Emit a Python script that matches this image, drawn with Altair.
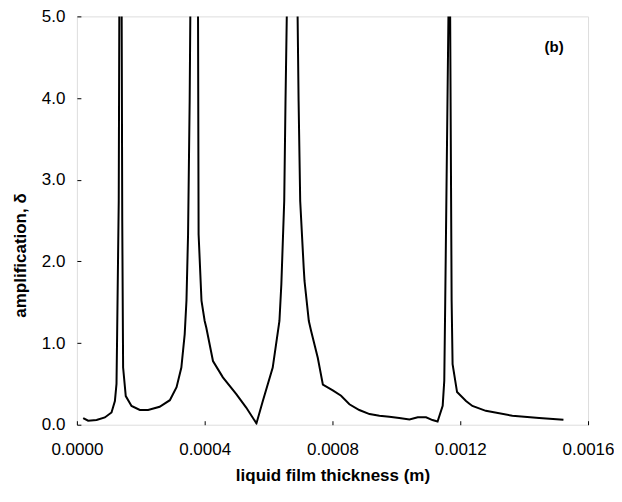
import altair as alt
import pandas as pd

# liquid film thickness (m)
thickness = [
    1.97e-5, 3.53e-5, 6.16e-5, 8.75e-5, 1.084e-4, 1.19e-4, 1.24e-4, 1.26e-4, 1.31e-4, 1.33e-4,
    1.40e-4, 1.42e-4, 1.447e-4, 1.53e-4, 1.71e-4, 1.97e-4, 2.23e-4, 2.59e-4, 2.91e-4, 3.12e-4,
    3.27e-4, 3.375e-4, 3.43e-4, 3.48e-4, 3.53e-4, 3.55e-4, 3.56e-4,
    3.79e-4, 3.81e-4, 3.90e-4, 4.00e-4, 4.05e-4, 4.26e-4, 4.57e-4, 4.99e-4, 5.30e-4, 5.62e-4,
    5.82e-4, 6.13e-4, 6.34e-4, 6.40e-4, 6.49e-4, 6.53e-4, 6.57e-4, 6.58e-4,
    6.90e-4, 6.94e-4, 6.99e-4, 7.10e-4, 7.125e-4, 7.26e-4, 7.33e-4, 7.54e-4, 7.70e-4, 8.01e-4,
    8.27e-4, 8.53e-4, 8.84e-4, 9.16e-4, 9.47e-4, 9.78e-4, 1.009e-3, 1.041e-3, 1.067e-3, 1.093e-3,
    1.113e-3, 1.129e-3, 1.145e-3, 1.150e-3, 1.153e-3, 1.163e-3, 1.164e-3,
    1.168e-3, 1.173e-3, 1.176e-3, 1.190e-3, 1.218e-3, 1.238e-3, 1.280e-3, 1.363e-3, 1.447e-3, 1.523e-3,
]
# amplification, delta
amplification = [
    0.082, 0.049, 0.057, 0.089, 0.15, 0.29, 0.50, 1.11, 2.74, 5.3,
    5.3, 2.50, 0.70, 0.35, 0.23, 0.18, 0.18, 0.22, 0.30, 0.46,
    0.70, 1.11, 1.52, 2.33, 3.96, 4.98, 5.3,
    5.3, 2.33, 1.52, 1.27, 1.19, 0.78, 0.58, 0.375, 0.21, 0.016,
    0.29, 0.70, 1.27, 1.72, 2.74, 3.96, 5.0, 5.3,
    5.3, 3.96, 2.74, 1.92, 1.76, 1.27, 1.15, 0.82, 0.49, 0.42,
    0.355, 0.25, 0.18, 0.13, 0.11, 0.098, 0.082, 0.065, 0.09, 0.09,
    0.057, 0.04, 0.23, 0.54, 1.52, 5.0, 5.3,
    5.3, 1.52, 0.74, 0.40, 0.29, 0.23, 0.17, 0.11, 0.082, 0.061,
]

x_ticks = [0.0, 0.0004, 0.0008, 0.0012, 0.0016]
y_ticks = [0.0, 1.0, 2.0, 3.0, 4.0, 5.0]

df = pd.DataFrame({"t": thickness, "a": amplification, "i": list(range(len(thickness)))})

FONT = "Liberation Sans"

x_enc = alt.X("t:Q", scale=alt.Scale(domain=[0, 0.0016], nice=False, zero=False),
              axis=alt.Axis(values=x_ticks, format=".4f", title="liquid film thickness (m)",
                            grid=False, domain=False, offset=-4, tickSize=4, tickColor="black",
                            labelFlush=False, labelPadding=17, labelFontSize=17, labelFont=FONT,
                            labelColor="black",
                            titleFont=FONT, titleFontSize=17, titleFontWeight="bold",
                            titleColor="black", titlePadding=10))
y_enc = alt.Y("a:Q", scale=alt.Scale(domain=[0, 5], nice=False, zero=False),
              axis=alt.Axis(values=y_ticks, format=".1f", title="amplification, δ",
                            grid=False, domain=False, offset=-4, tickSize=4, tickColor="black",
                            labelFlush=False, labelPadding=12, labelFontSize=17, labelFont=FONT,
                            labelColor="black",
                            titleFont=FONT, titleFontSize=17, titleFontWeight="bold",
                            titleColor="black", titlePadding=12, titleY=239))

line = alt.Chart(df).mark_line(color="black", strokeWidth=2, clip=True).encode(
    x=x_enc, y=y_enc, order="i:Q"
)

label = alt.Chart(pd.DataFrame({"s": ["(b)"]})).mark_text(
    font=FONT, fontSize=15, fontWeight="bold", color="black", align="center", baseline="middle"
).encode(x=alt.datum(0.001494), y=alt.datum(4.63), text="s:N")

chart = alt.layer(line, label).properties(
    width=512, height=409,
    autosize=alt.AutoSizeParams(type="none"),
    padding={"left": 69, "top": 8, "right": 26, "bottom": 61},
).configure_view(stroke="black", strokeWidth=1.2).configure(background="white")

chart.save("out.html", embed_options={"renderer": "svg", "actions": False})
